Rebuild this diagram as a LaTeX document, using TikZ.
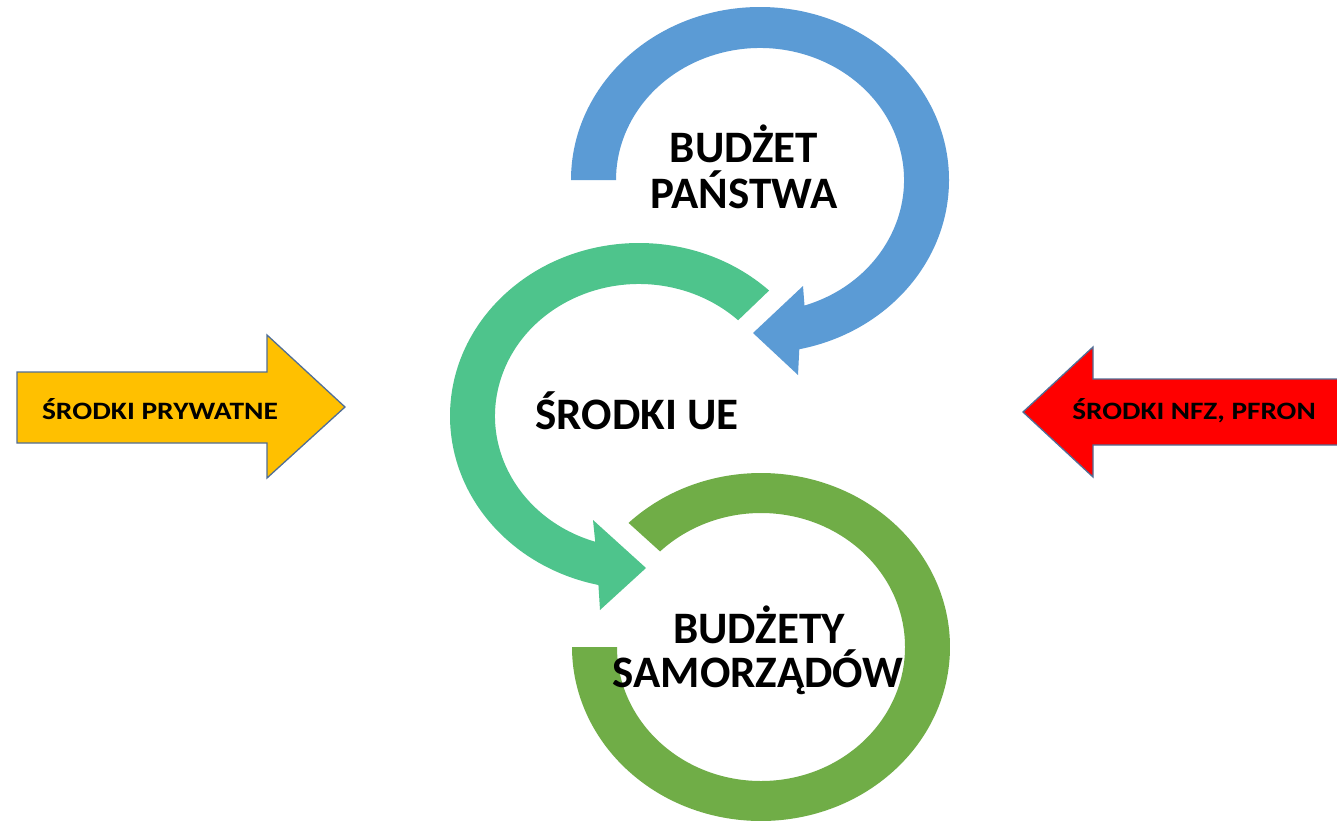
\documentclass[tikz,border=0pt]{standalone}
\usepackage{fontspec}
\setmainfont{Carlito}
\usetikzlibrary{calc}
\definecolor{cblue}{RGB}{91,155,213}
\definecolor{cteal}{RGB}{78,196,140}
\definecolor{cgreen}{RGB}{112,173,71}
\definecolor{cyell}{RGB}{255,192,0}
\definecolor{cred}{RGB}{255,0,0}
\definecolor{cline}{RGB}{80,110,150}
\tikzset{
  bigtxt/.style={font=\fontsize{45}{47}\selectfont\bfseries, inner sep=0pt, anchor=base, text=black},
  smalltxt/.style={font=\fontsize{25}{27}\selectfont\bfseries, inner sep=0pt, anchor=base, text=black},
  flatarrow/.style={draw=cline, line width=1.3pt, line join=miter}
}
\begin{document}
\begin{tikzpicture}[x=1pt,y=1pt]
\clip (0,0) rectangle (1337,-822);
\fill[white] (0,0) rectangle (1337,-822);
\coordinate (bc) at (760,-180);
\coordinate (tc) at (639,-416);
\coordinate (gc) at (761,-647);
% blue arc
\fill[cblue] ($(bc)+(180:189 and 173)$) arc[start angle=180, end angle=-78, x radius=189pt, y radius=173pt]
  -- (798,-375) -- (753,-333) -- (803,-286)
  -- ($(bc)+(-72:144 and 132)$) arc[start angle=-72, end angle=180, x radius=144pt, y radius=132pt] -- cycle;
% teal arc
\fill[cteal] ($(tc)+(46.5:189 and 173)$) arc[start angle=46.5, end angle=257.6, x radius=189pt, y radius=173pt]
  -- (600,-610) -- (646,-568) -- (593,-520)
  -- ($(tc)+(252.3:144 and 132)$) arc[start angle=252.3, end angle=46.5, x radius=144pt, y radius=132pt] -- cycle;
% green arc
\fill[cgreen] ($(gc)+(134.5:189 and 174)$) arc[start angle=134.5, end angle=-180, x radius=189pt, y radius=174pt]
  -- ($(gc)+(-180:144 and 134)$) arc[start angle=-180, end angle=134.5, x radius=144pt, y radius=134pt] -- cycle;
% side arrows
\fill[cyell, flatarrow] (17,-372) -- (267,-372) -- (267,-335) -- (345,-407) -- (267,-478) -- (267,-443) -- (17,-443) -- cycle;
\fill[cred, flatarrow] (1350,-379) -- (1093,-379) -- (1093,-347) -- (1023,-412) -- (1093,-477) -- (1093,-445) -- (1350,-445) -- cycle;
% texts
\node[bigtxt] (bp1) at (744,-162) {BUDŻET};
\node[bigtxt] (bp2) at (744,-208) {PAŃSTWA};
\node[bigtxt] (ue) at (637,-429) {ŚRODKI UE};
\node[bigtxt] (bs1) at (759,-643) {BUDŻETY};
\node[bigtxt] (bs2) at (758,-687) {SAMORZĄDÓW};
\node[smalltxt] (pryw) at (160,-419) {\scalebox{1.18}[1]{ŚRODKI PRYWATNE}};
\node[smalltxt] (nfz) at (1194,-419) {\scalebox{1.17}[1]{ŚRODKI NFZ, PFRON}};
\end{tikzpicture}
\end{document}
